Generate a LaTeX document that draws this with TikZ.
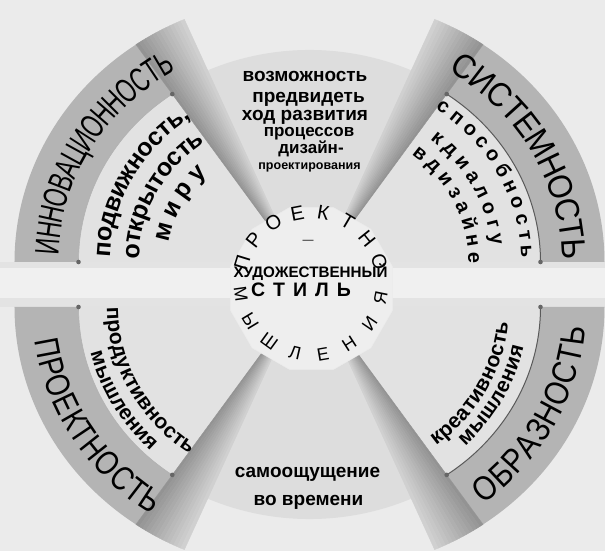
\documentclass[tikz,border=0pt]{standalone}
\usepackage{fontspec}
\setmainfont{Liberation Sans}
\newfontfamily\bandA[FakeStretch=0.66]{Liberation Sans}
\newfontfamily\bandB[FakeStretch=0.92]{Liberation Sans}
\newfontfamily\bandC[FakeStretch=0.81]{Liberation Sans}
\newfontfamily\bandD[FakeStretch=0.86]{Liberation Sans}
\usetikzlibrary{decorations.text}

\definecolor{bgc}{HTML}{EBEBEB}
\definecolor{facec}{HTML}{E2E2E2}
\definecolor{bandc}{HTML}{B4B4B4}
\definecolor{smallc}{HTML}{DDDDDD}
\definecolor{gapc}{HTML}{E3E3E3}
\definecolor{gaplight}{HTML}{F0F0F0}
\definecolor{polyc}{HTML}{EEEEEE}
\definecolor{stripdark}{HTML}{939393}
\definecolor{striplight}{HTML}{D0D0D0}
\definecolor{edgec}{HTML}{5A5A5A}

% full sector: #1 shift, #2 R, #3 a1, #4 a2, #5 style
\newcommand\fullsector[5]{%
  \pgfmathsetmacro\myry{0.94*#2}%
  \fill[#5,shift={#1}] (0pt,0pt) -- (#3:#2pt and \myry pt) arc[start angle=#3,end angle=#4,x radius=#2pt,y radius=\myry pt] -- cycle;}
% annular sector: #1 shift, #2 r, #3 R, #4 a1, #5 a2, #6 style
\newcommand\annsector[6]{%
  \pgfmathsetmacro\myry{0.94*#3}\pgfmathsetmacro\myriy{0.94*#2}%
  \fill[#6,shift={#1}] (#4:#3pt and \myry pt) arc[start angle=#4,end angle=#5,x radius=#3pt,y radius=\myry pt] -- (#5:#2pt and \myriy pt) arc[start angle=#5,end angle=#4,x radius=#2pt,y radius=\myriy pt] -- cycle;}
% shaded side strip: #1 shift, #2 R, #3 face angle (dark), #4 far angle (light)
\newcommand\stripw[4]{%
  \foreach \i in {0,...,13}{%
    \pgfmathsetmacro\myA{#3+(#4-#3)*\i/14}%
    \pgfmathsetmacro\myB{#3+(#4-#3)*(\i+1)/14}%
    \pgfmathsetmacro\myP{100-\i*100/13}%
    \pgfmathsetmacro\myry{0.94*#2}%
    \filldraw[draw=stripdark!\myP!striplight,fill=stripdark!\myP!striplight,line width=0.4pt,shift={#1}] (0pt,0pt) -- (\myA:#2pt and \myry pt) arc[start angle=\myA,end angle=\myB,x radius=#2pt,y radius=\myry pt] -- cycle;}}
% inner boundary line with end marks: #1 shift, #2 r, #3 a1, #4 a2, #5 style
\newcommand\innerline[5]{%
  \pgfmathsetmacro\myry{0.94*#2}%
  \draw[#5,shift={#1}] (#3:#2pt and \myry pt) arc[start angle=#3,end angle=#4,x radius=#2pt,y radius=\myry pt];
  \fill[black!60,shift={#1}] (#3:#2pt and \myry pt) circle (2.3pt) (#4:#2pt and \myry pt) circle (2.3pt);}
% text along arc: #1 shift, #2 r, #3 start, #4 end, #5 raise, #6 format, #7 text
\newcommand\arctext[7]{%
  \pgfmathsetmacro\myty{0.94*#2}%
  \path[shift={#1},decorate,decoration={text along path,text={|#6|#7},text align=center,raise=#5}] (#3:#2pt and \myty pt) arc[start angle=#3,end angle=#4,x radius=#2pt,y radius=\myty pt];}

\begin{document}
\begin{tikzpicture}[x=1pt,y=1pt]
\useasboundingbox (-309.5,-266.5) rectangle (295.5,284.5);
\fill[bgc] (-309.5,-266.5) rectangle (295.5,284.5);
% horizontal gaps
\fill[gapc] (-309.5,-22.5) rectangle (295.5,22.5);
\fill[gaplight] (-309.5,-13.5) rectangle (295.5,16.5);
% small sectors (top and bottom)
\fullsector{(0pt,0pt)}{249.5}{58}{122}{smallc}
\fullsector{(0pt,0pt)}{249.5}{238}{302}{smallc}
% upper-left
\fullsector{(-14pt,22.5pt)}{217}{124.6}{180}{facec}
\annsector{(-14pt,22.5pt)}{217}{281}{124.6}{180}{bandc}
\stripw{(-14pt,22.5pt)}{281}{124.6}{113.3}
\innerline{(-14pt,22.5pt)}{217}{124.6}{180}{black!30,line width=0.6pt}
% upper-right
\fullsector{(14pt,22.5pt)}{217}{0}{55.4}{facec}
\annsector{(14pt,22.5pt)}{217}{281}{0}{55.4}{bandc}
\stripw{(14pt,22.5pt)}{281}{55.4}{66.7}
\innerline{(14pt,22.5pt)}{217}{0}{55.4}{edgec,line width=1pt}
% lower-left
\fullsector{(-14pt,-22.5pt)}{217}{180}{235.4}{facec}
\annsector{(-14pt,-22.5pt)}{217}{281}{180}{235.4}{bandc}
\stripw{(-14pt,-22.5pt)}{281}{235.4}{246.7}
\innerline{(-14pt,-22.5pt)}{217}{180}{235.4}{black!30,line width=0.6pt}
% lower-right
\fullsector{(14pt,-22.5pt)}{217}{304.6}{360}{facec}
\annsector{(14pt,-22.5pt)}{217}{281}{304.6}{360}{bandc}
\stripw{(14pt,-22.5pt)}{281}{304.6}{293.3}
\innerline{(14pt,-22.5pt)}{217}{304.6}{360}{edgec,line width=1pt}
% central polygon
\filldraw[fill=polyc,draw=black!8,shift={(2pt,-4pt)}] (15:84pt) \foreach \a in {45,75,...,345}{ -- (\a:84pt)} -- cycle;

% band texts
\arctext{(-14pt,22.5pt)}{249}{199.75}{99.75}{-12pt}{\bandA\fontsize{34}{36}\selectfont}{ИННОВАЦИОННОСТЬ}
\arctext{(14pt,22.5pt)}{251}{79}{-21}{-12pt}{\bandB\fontsize{34}{36}\selectfont}{СИСТЕМНОСТЬ}
\arctext{(-14pt,-22.5pt)}{251}{161.6}{261.6}{-12pt}{\bandC\fontsize{34}{36}\selectfont}{ПРОЕКТНОСТЬ}
\arctext{(14pt,-22.5pt)}{251}{282}{382}{-12pt}{\bandD\fontsize{34}{36}\selectfont}{ОБРАЗНОСТЬ}
% upper-left face
\arctext{(-14pt,22.5pt)}{192}{196.7}{106.7}{-6.5pt}{\bfseries\fontsize{25}{27}\selectfont}{подвижность,}
\arctext{(-14pt,22.5pt)}{163}{197.5}{107.5}{-6.5pt}{\bfseries\fontsize{25}{27}\selectfont}{открытость}
\arctext{(-14pt,22.5pt)}{135}{197.5}{107.5}{-6.5pt}{\bfseries\fontsize{25}{27}\selectfont}{м и р у}
% upper-right face
\arctext{(14pt,22.5pt)}{203}{73}{-17}{-5.2pt}{\bfseries\fontsize{20}{22}\selectfont}{с п о с о б н о с т ь}
\arctext{(14pt,22.5pt)}{174}{73}{-17}{-5.2pt}{\bfseries\fontsize{20}{22}\selectfont}{к д и а л о г у}
\arctext{(14pt,22.5pt)}{150}{70.5}{-19.5}{-5.2pt}{\bfseries\fontsize{20}{22}\selectfont}{в д и з а й н е}
% lower-left face
\arctext{(-14pt,-22.5pt)}{183}{162.5}{252.5}{-5.5pt}{\bfseries\fontsize{21}{23}\selectfont}{продуктивность}
\arctext{(-14pt,-22.5pt)}{205}{164.2}{254.2}{-5.5pt}{\bfseries\fontsize{21}{23}\selectfont}{мышления}
% lower-right face
\arctext{(14pt,-22.5pt)}{180}{286.7}{376.7}{-5.5pt}{\bfseries\fontsize{21}{23}\selectfont}{креативность}
\arctext{(14pt,-22.5pt)}{199}{286.6}{376.6}{-5.5pt}{\bfseries\fontsize{21}{23}\selectfont}{мышления}

% top sector text
\tikzset{small/.style={anchor=base,inner sep=0pt,font=\bfseries}}
\node[small] (t1) at (-4.5,202.5) {\fontsize{19}{20}\selectfont возможность};
\node[small] (t2) at (-1,181.5) {\fontsize{19}{20}\selectfont предвидеть};
\node[small] (t3) at (-4.5,163.5) {\fontsize{19}{20}\selectfont ход развития};
\node[small] (t4) at (-0.5,148) {\fontsize{17}{18}\selectfont процессов};
\node[small] (t5) at (1.5,131) {\fontsize{17}{18}\selectfont дизайн-};
\node[small] (t6) at (0,115) {\fontsize{12.5}{13}\selectfont проектирования};
% bottom sector text
\node[small] (b1) at (-2,-192.5) {\fontsize{19}{20}\selectfont самоощущение};
\node[small] (b2) at (-1,-220.5) {\fontsize{19}{20}\selectfont во времени};

% center texts
\foreach \ch [count=\i from 0] in {П,Р,О,Е,К,Т,Н,О}{%
  \pgfmathsetmacro\ang{163-20.7*\i}%
  \node[font=\fontsize{20}{20}\selectfont,rotate=\ang-90,inner sep=0pt] (pt\i) at ([shift={(1.5pt,0.5pt)}]\ang:72pt) {\ch};}
\foreach \ch [count=\i from 0] in {М,Ы,Ш,Л,Е,Н,И,Я}{%
  \pgfmathsetmacro\ang{188.2+22.9*\i}%
  \node[font=\fontsize{18}{18}\selectfont,rotate=\ang+90,inner sep=0pt] (pb\i) at ([shift={(1.5pt,0.5pt)}]\ang:71pt) {\ch};}
\node[inner sep=0pt] (dash) at (-1.5,42.5) {\fontsize{11}{11}\selectfont —};
\node[anchor=base,inner sep=0pt] (hud) at (1,7) {\bfseries\fontsize{15.2}{16}\selectfont ХУДОЖЕСТВЕННЫЙ};
\node[anchor=base,inner sep=0pt] (stil) at (-8.5,-12.5) {\bfseries\fontsize{19.5}{20}\selectfont С\kern8pt Т\kern8pt И\kern8pt Л\kern8pt Ь};
\end{tikzpicture}
\end{document}
